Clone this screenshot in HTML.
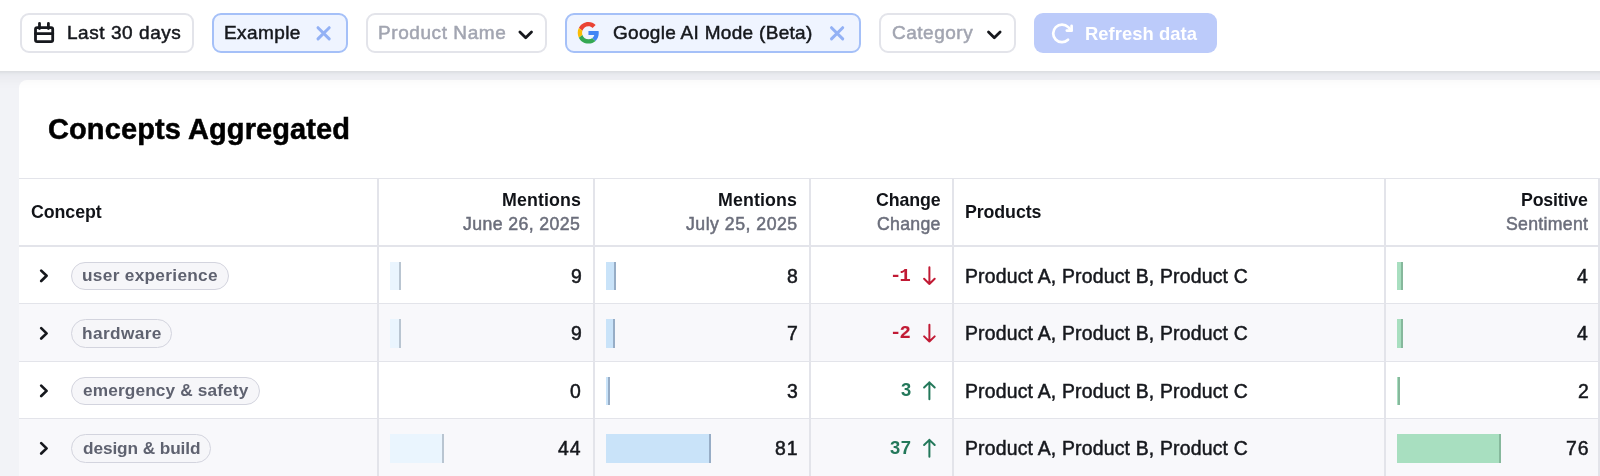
<!DOCTYPE html>
<html><head><meta charset="utf-8"><title>Concepts Aggregated</title>
<style>
html,body{margin:0;padding:0;}
body{width:1600px;height:476px;overflow:hidden;position:relative;background:#f2f3f7;font-family:"Liberation Sans",sans-serif;}
#hdr{position:absolute;left:-40px;top:0;width:1680px;height:71px;background:#fff;box-shadow:0 1px 3px rgba(20,22,40,0.08),0 4px 16px rgba(20,22,40,0.07);z-index:4;}
#card{position:absolute;left:19px;top:80px;width:1700px;height:500px;background:#fff;border-radius:8px;z-index:1;}
.t{position:absolute;line-height:0;white-space:nowrap;z-index:6;will-change:transform;}
.b{position:absolute;box-sizing:border-box;z-index:5;}
.r{position:absolute;box-sizing:border-box;z-index:2;}
.pill{position:absolute;height:28.6px;box-sizing:border-box;border:1px solid #d3d4de;border-radius:15px;background:#f6f6f9;z-index:3;}
.bar{position:absolute;height:28.6px;box-sizing:border-box;z-index:3;}
#ic{position:absolute;left:0;top:0;z-index:7;pointer-events:none;}
</style></head><body>
<div id="hdr"></div>
<div class="b" style="left:20px;top:13px;width:174px;height:40px;border:2px solid #e3e4ea;border-radius:9px;background:#fff;"></div><div class="b" style="left:212px;top:13px;width:136px;height:40px;border:2px solid #a5c0f8;border-radius:9px;background:#eff4ff;"></div><div class="b" style="left:366px;top:13px;width:181px;height:40px;border:2px solid #e3e4ea;border-radius:9px;background:#fff;"></div><div class="b" style="left:565px;top:13px;width:296px;height:40px;border:2px solid #a5c0f8;border-radius:9px;background:#eff4ff;"></div><div class="b" style="left:879px;top:13px;width:137px;height:40px;border:2px solid #e3e4ea;border-radius:9px;background:#fff;"></div><div class="b" style="left:1034px;top:13px;width:183px;height:40px;border-radius:9px;background:#bccbfa;"></div><div id="card"></div><div class="r" style="left:19px;top:304px;width:1581px;height:57px;background:#f8f8fb;"></div><div class="r" style="left:19px;top:419px;width:1581px;height:57px;background:#f8f8fb;"></div><div class="r" style="left:19px;top:178px;width:1581px;height:1px;background:#e3e4ea;"></div><div class="r" style="left:19px;top:245px;width:1581px;height:2px;background:#e3e4ea;"></div><div class="r" style="left:19px;top:303px;width:1581px;height:1px;background:#e3e4ea;"></div><div class="r" style="left:19px;top:361px;width:1581px;height:1px;background:#e3e4ea;"></div><div class="r" style="left:19px;top:418px;width:1581px;height:1px;background:#e3e4ea;"></div><div class="r" style="left:377px;top:178px;width:2px;height:298px;background:#e3e4ea;"></div><div class="r" style="left:593px;top:178px;width:2px;height:298px;background:#e3e4ea;"></div><div class="r" style="left:809px;top:178px;width:2px;height:298px;background:#e3e4ea;"></div><div class="r" style="left:952px;top:178px;width:2px;height:298px;background:#e3e4ea;"></div><div class="r" style="left:1384px;top:178px;width:2px;height:298px;background:#e3e4ea;"></div><div class="r" style="left:1598px;top:178px;width:2px;height:298px;background:#e3e4ea;"></div><div class="pill" style="left:71px;top:261.70px;width:158px;"></div><div class="bar" style="left:390px;top:261.50px;width:11.0px;background:#eaf5fe;border-right:2px solid #b9c5d1;"></div><div class="bar" style="left:606px;top:261.50px;width:10.4px;background:#c9e3f9;border-right:2px solid #97adc6;"></div><div class="bar" style="left:1397px;top:261.50px;width:5.5px;background:#a8dfc0;border-right:2px solid #86b89c;"></div><div class="pill" style="left:71px;top:319.25px;width:101px;"></div><div class="bar" style="left:390px;top:319.05px;width:11.0px;background:#eaf5fe;border-right:2px solid #b9c5d1;"></div><div class="bar" style="left:606px;top:319.05px;width:9.1px;background:#c9e3f9;border-right:2px solid #97adc6;"></div><div class="bar" style="left:1397px;top:319.05px;width:5.5px;background:#a8dfc0;border-right:2px solid #86b89c;"></div><div class="pill" style="left:71px;top:376.75px;width:189px;"></div><div class="bar" style="left:606px;top:376.55px;width:3.9px;background:#c9e3f9;border-right:2px solid #97adc6;"></div><div class="bar" style="left:1397px;top:376.55px;width:2.7px;background:#a8dfc0;border-right:2px solid #86b89c;"></div><div class="pill" style="left:71px;top:434.25px;width:140px;"></div><div class="bar" style="left:390px;top:434.05px;width:53.6px;background:#eaf5fe;border-right:2px solid #b9c5d1;"></div><div class="bar" style="left:606px;top:434.05px;width:104.8px;background:#c9e3f9;border-right:2px solid #97adc6;"></div><div class="bar" style="left:1397px;top:434.05px;width:103.8px;background:#a8dfc0;border-right:2px solid #86b89c;"></div>
<div class="t" style="left:66.70px;top:33.32px;font-size:19px;font-weight:400;color:#16181d;letter-spacing:0.551px;font-family:&quot;Liberation Sans&quot;, sans-serif;-webkit-text-stroke:0.5px #16181d;">Last 30 days</div><div class="t" style="left:224.00px;top:33.32px;font-size:19px;font-weight:400;color:#16181d;letter-spacing:0.408px;font-family:&quot;Liberation Sans&quot;, sans-serif;-webkit-text-stroke:0.5px #16181d;">Example</div><div class="t" style="left:377.80px;top:33.32px;font-size:19px;font-weight:400;color:#a2a5b1;letter-spacing:0.575px;font-family:&quot;Liberation Sans&quot;, sans-serif;-webkit-text-stroke:0.5px #a2a5b1;">Product Name</div><div class="t" style="left:612.50px;top:33.32px;font-size:19px;font-weight:400;color:#16181d;letter-spacing:0.300px;font-family:&quot;Liberation Sans&quot;, sans-serif;-webkit-text-stroke:0.5px #16181d;">Google AI Mode (Beta)</div><div class="t" style="left:892.40px;top:33.32px;font-size:19px;font-weight:400;color:#a2a5b1;letter-spacing:0.515px;font-family:&quot;Liberation Sans&quot;, sans-serif;-webkit-text-stroke:0.5px #a2a5b1;">Category</div><div class="t" style="left:1085.00px;top:33.52px;font-size:18.4px;font-weight:700;color:#fff;letter-spacing:0.057px;font-family:&quot;Liberation Sans&quot;, sans-serif;">Refresh data</div><div class="t" style="left:47.90px;top:128.75px;font-size:29px;font-weight:700;color:#000000;letter-spacing:0.100px;font-family:&quot;Liberation Sans&quot;, sans-serif;-webkit-text-stroke:0.5px #000000;">Concepts Aggregated</div><div class="t" style="left:31.25px;top:212.33px;font-size:17.8px;font-weight:700;color:#111318;letter-spacing:-0.076px;font-family:&quot;Liberation Sans&quot;, sans-serif;">Concept</div><div class="t" style="left:501.90px;top:200.33px;font-size:17.8px;font-weight:700;color:#111318;letter-spacing:0.122px;font-family:&quot;Liberation Sans&quot;, sans-serif;">Mentions</div><div class="t" style="left:463.30px;top:223.77px;font-size:17.7px;font-weight:400;color:#6b6e7b;letter-spacing:0.393px;font-family:&quot;Liberation Sans&quot;, sans-serif;-webkit-text-stroke:0.5px #6b6e7b;">June 26, 2025</div><div class="t" style="left:717.80px;top:200.33px;font-size:17.8px;font-weight:700;color:#111318;letter-spacing:0.122px;font-family:&quot;Liberation Sans&quot;, sans-serif;">Mentions</div><div class="t" style="left:685.50px;top:223.77px;font-size:17.7px;font-weight:400;color:#6b6e7b;letter-spacing:0.493px;font-family:&quot;Liberation Sans&quot;, sans-serif;-webkit-text-stroke:0.5px #6b6e7b;">July 25, 2025</div><div class="t" style="left:876.00px;top:200.33px;font-size:17.8px;font-weight:700;color:#111318;letter-spacing:-0.103px;font-family:&quot;Liberation Sans&quot;, sans-serif;">Change</div><div class="t" style="left:877.30px;top:223.77px;font-size:17.7px;font-weight:400;color:#6b6e7b;letter-spacing:0.276px;font-family:&quot;Liberation Sans&quot;, sans-serif;-webkit-text-stroke:0.5px #6b6e7b;">Change</div><div class="t" style="left:964.50px;top:212.33px;font-size:17.8px;font-weight:700;color:#111318;letter-spacing:-0.096px;font-family:&quot;Liberation Sans&quot;, sans-serif;">Products</div><div class="t" style="left:1520.80px;top:200.33px;font-size:17.8px;font-weight:700;color:#111318;letter-spacing:-0.200px;font-family:&quot;Liberation Sans&quot;, sans-serif;">Positive</div><div class="t" style="left:1505.60px;top:223.77px;font-size:17.7px;font-weight:400;color:#6b6e7b;letter-spacing:0.297px;font-family:&quot;Liberation Sans&quot;, sans-serif;-webkit-text-stroke:0.5px #6b6e7b;">Sentiment</div><div class="t" style="left:82.00px;top:275.32px;font-size:17.25px;font-weight:700;color:#5f6270;letter-spacing:0.302px;font-family:&quot;Liberation Sans&quot;, sans-serif;">user experience</div><div class="t" style="right:1018.32px;top:275.58px;font-size:19.4px;font-weight:400;color:#16181d;letter-spacing:0.000px;font-family:&quot;Liberation Sans&quot;, sans-serif;-webkit-text-stroke:0.5px #16181d;">9</div><div class="t" style="right:802.32px;top:275.58px;font-size:19.4px;font-weight:400;color:#16181d;letter-spacing:0.000px;font-family:&quot;Liberation Sans&quot;, sans-serif;-webkit-text-stroke:0.5px #16181d;">8</div><div class="t" style="right:12.42px;top:275.58px;font-size:19.4px;font-weight:400;color:#16181d;letter-spacing:0.000px;font-family:&quot;Liberation Sans&quot;, sans-serif;-webkit-text-stroke:0.5px #16181d;">4</div><div class="t" style="left:890.30px;top:275.90px;font-size:18.8px;font-weight:700;color:#c11a34;letter-spacing:-1.671px;font-family:&quot;Liberation Mono&quot;, monospace;-webkit-text-stroke:0.1px #c11a34;">-1</div><div class="t" style="left:965.40px;top:275.58px;font-size:19.4px;font-weight:400;color:#16181d;letter-spacing:0.191px;font-family:&quot;Liberation Sans&quot;, sans-serif;-webkit-text-stroke:0.5px #16181d;">Product A, Product B, Product C</div><div class="t" style="left:82.00px;top:332.82px;font-size:17.25px;font-weight:700;color:#5f6270;letter-spacing:0.385px;font-family:&quot;Liberation Sans&quot;, sans-serif;">hardware</div><div class="t" style="right:1018.32px;top:333.08px;font-size:19.4px;font-weight:400;color:#16181d;letter-spacing:0.000px;font-family:&quot;Liberation Sans&quot;, sans-serif;-webkit-text-stroke:0.5px #16181d;">9</div><div class="t" style="right:802.32px;top:333.08px;font-size:19.4px;font-weight:400;color:#16181d;letter-spacing:0.000px;font-family:&quot;Liberation Sans&quot;, sans-serif;-webkit-text-stroke:0.5px #16181d;">7</div><div class="t" style="right:12.42px;top:333.08px;font-size:19.4px;font-weight:400;color:#16181d;letter-spacing:0.000px;font-family:&quot;Liberation Sans&quot;, sans-serif;-webkit-text-stroke:0.5px #16181d;">4</div><div class="t" style="left:890.30px;top:333.40px;font-size:18.8px;font-weight:700;color:#c11a34;letter-spacing:-1.671px;font-family:&quot;Liberation Mono&quot;, monospace;-webkit-text-stroke:0.1px #c11a34;">-2</div><div class="t" style="left:965.40px;top:333.08px;font-size:19.4px;font-weight:400;color:#16181d;letter-spacing:0.191px;font-family:&quot;Liberation Sans&quot;, sans-serif;-webkit-text-stroke:0.5px #16181d;">Product A, Product B, Product C</div><div class="t" style="left:83.00px;top:390.32px;font-size:17.25px;font-weight:700;color:#5f6270;letter-spacing:0.135px;font-family:&quot;Liberation Sans&quot;, sans-serif;">emergency &amp; safety</div><div class="t" style="right:1019.32px;top:390.58px;font-size:19.4px;font-weight:400;color:#16181d;letter-spacing:0.000px;font-family:&quot;Liberation Sans&quot;, sans-serif;-webkit-text-stroke:0.5px #16181d;">0</div><div class="t" style="right:802.32px;top:390.58px;font-size:19.4px;font-weight:400;color:#16181d;letter-spacing:0.000px;font-family:&quot;Liberation Sans&quot;, sans-serif;-webkit-text-stroke:0.5px #16181d;">3</div><div class="t" style="right:11.42px;top:390.58px;font-size:19.4px;font-weight:400;color:#16181d;letter-spacing:0.000px;font-family:&quot;Liberation Sans&quot;, sans-serif;-webkit-text-stroke:0.5px #16181d;">2</div><div class="t" style="right:687.97px;top:390.32px;font-size:18.4px;font-weight:700;color:#23785a;letter-spacing:0.600px;font-family:&quot;Liberation Sans&quot;, sans-serif;">3</div><div class="t" style="left:965.40px;top:390.58px;font-size:19.4px;font-weight:400;color:#16181d;letter-spacing:0.191px;font-family:&quot;Liberation Sans&quot;, sans-serif;-webkit-text-stroke:0.5px #16181d;">Product A, Product B, Product C</div><div class="t" style="left:83.00px;top:447.82px;font-size:17.25px;font-weight:700;color:#5f6270;letter-spacing:-0.099px;font-family:&quot;Liberation Sans&quot;, sans-serif;">design &amp; build</div><div class="t" style="right:1018.52px;top:448.08px;font-size:19.4px;font-weight:400;color:#16181d;letter-spacing:1.000px;font-family:&quot;Liberation Sans&quot;, sans-serif;-webkit-text-stroke:0.5px #16181d;">44</div><div class="t" style="right:801.42px;top:448.08px;font-size:19.4px;font-weight:400;color:#16181d;letter-spacing:1.000px;font-family:&quot;Liberation Sans&quot;, sans-serif;-webkit-text-stroke:0.5px #16181d;">81</div><div class="t" style="right:10.62px;top:448.08px;font-size:19.4px;font-weight:400;color:#16181d;letter-spacing:1.000px;font-family:&quot;Liberation Sans&quot;, sans-serif;-webkit-text-stroke:0.5px #16181d;">76</div><div class="t" style="right:687.97px;top:447.82px;font-size:18.4px;font-weight:700;color:#23785a;letter-spacing:0.600px;font-family:&quot;Liberation Sans&quot;, sans-serif;">37</div><div class="t" style="left:965.40px;top:448.08px;font-size:19.4px;font-weight:400;color:#16181d;letter-spacing:0.191px;font-family:&quot;Liberation Sans&quot;, sans-serif;-webkit-text-stroke:0.5px #16181d;">Product A, Product B, Product C</div>
<svg id="ic" width="1600" height="476" viewBox="0 0 1600 476"><g fill="none" stroke="#16181d" stroke-width="2.8" stroke-linecap="round" stroke-linejoin="round"><rect x="35.5" y="27.6" width="17.2" height="14" rx="1.6"/><path d="M35.5 33.7H52.7"/><path d="M39.5 23.5V28.6"/><path d="M48.4 23.5V28.6"/></g><path d="M318.0 27.699999999999996L329.20000000000005 38.9M329.20000000000005 27.699999999999996L318.0 38.9" fill="none" stroke="#93b1f5" stroke-width="3.0" stroke-linecap="round"/><path d="M831.5 27.699999999999996L842.7 38.9M842.7 27.699999999999996L831.5 38.9" fill="none" stroke="#93b1f5" stroke-width="3.0" stroke-linecap="round"/><path d="M519.9000000000001 31.999999999999996L525.7 37.699999999999996L531.5 31.999999999999996" fill="none" stroke="#16181d" stroke-width="2.8" stroke-linecap="round" stroke-linejoin="round"/><path d="M988.5 31.999999999999996L994.3 37.699999999999996L1000.0999999999999 31.999999999999996" fill="none" stroke="#16181d" stroke-width="2.8" stroke-linecap="round" stroke-linejoin="round"/><g transform="translate(1049.2,20.2) scale(0.1)" fill="none" stroke="#fff" stroke-width="27" stroke-linecap="round" stroke-linejoin="round"><polyline points="176 104 224 104 224 56"/><path d="M188.3,195.9a88,88,0,1,1,1.8-126.2L224,104"/></g><g transform="translate(577.7,22.1) scale(0.4479)"><path fill="#EA4335" d="M24 9.5c3.54 0 6.71 1.22 9.21 3.6l6.85-6.85C35.9 2.38 30.47 0 24 0 14.62 0 6.51 5.38 2.56 13.22l7.98 6.19C12.43 13.72 17.74 9.5 24 9.5z"/><path fill="#4285F4" d="M46.98 24.55c0-1.570-.15-3.090-.38-4.550H24v9.020h12.94c-.58 2.960-2.260 5.480-4.780 7.180l7.730 6c4.510-4.180 7.090-10.360 7.090-17.650z"/><path fill="#FBBC05" d="M10.53 28.59c-.48-1.45-.76-2.99-.76-4.59s.27-3.14.76-4.59l-7.98-6.19C.92 16.46 0 20.12 0 24c0 3.88.92 7.54 2.56 10.78l7.97-6.19z"/><path fill="#34A853" d="M24 48c6.48 0 11.93-2.13 15.89-5.81l-7.73-6c-2.15 1.45-4.92 2.3-8.16 2.3-6.26 0-11.57-4.22-13.47-9.91l-7.98 6.19C6.51 42.62 14.62 48 24 48z"/></g><path d="M41.2 270.60L46.6 275.80L41.2 281.00" fill="none" stroke="#16181d" stroke-width="2.7" stroke-linecap="round" stroke-linejoin="round"/><path d="M929.4 267.30V284.00M924.1 278.80L929.4 284.00L934.6999999999999 278.80" fill="none" stroke="#c11a34" stroke-width="2" stroke-linecap="round" stroke-linejoin="round"/><path d="M41.2 328.15L46.6 333.35L41.2 338.55" fill="none" stroke="#16181d" stroke-width="2.7" stroke-linecap="round" stroke-linejoin="round"/><path d="M929.4 324.85V341.55M924.1 336.35L929.4 341.55L934.6999999999999 336.35" fill="none" stroke="#c11a34" stroke-width="2" stroke-linecap="round" stroke-linejoin="round"/><path d="M41.2 385.65L46.6 390.85L41.2 396.05" fill="none" stroke="#16181d" stroke-width="2.7" stroke-linecap="round" stroke-linejoin="round"/><path d="M929.4 399.25V382.35M924.1 387.55L929.4 382.35L934.6999999999999 387.55" fill="none" stroke="#23785a" stroke-width="2" stroke-linecap="round" stroke-linejoin="round"/><path d="M41.2 443.15L46.6 448.35L41.2 453.55" fill="none" stroke="#16181d" stroke-width="2.7" stroke-linecap="round" stroke-linejoin="round"/><path d="M929.4 456.75V439.85M924.1 445.05L929.4 439.85L934.6999999999999 445.05" fill="none" stroke="#23785a" stroke-width="2" stroke-linecap="round" stroke-linejoin="round"/></svg>
</body></html>
